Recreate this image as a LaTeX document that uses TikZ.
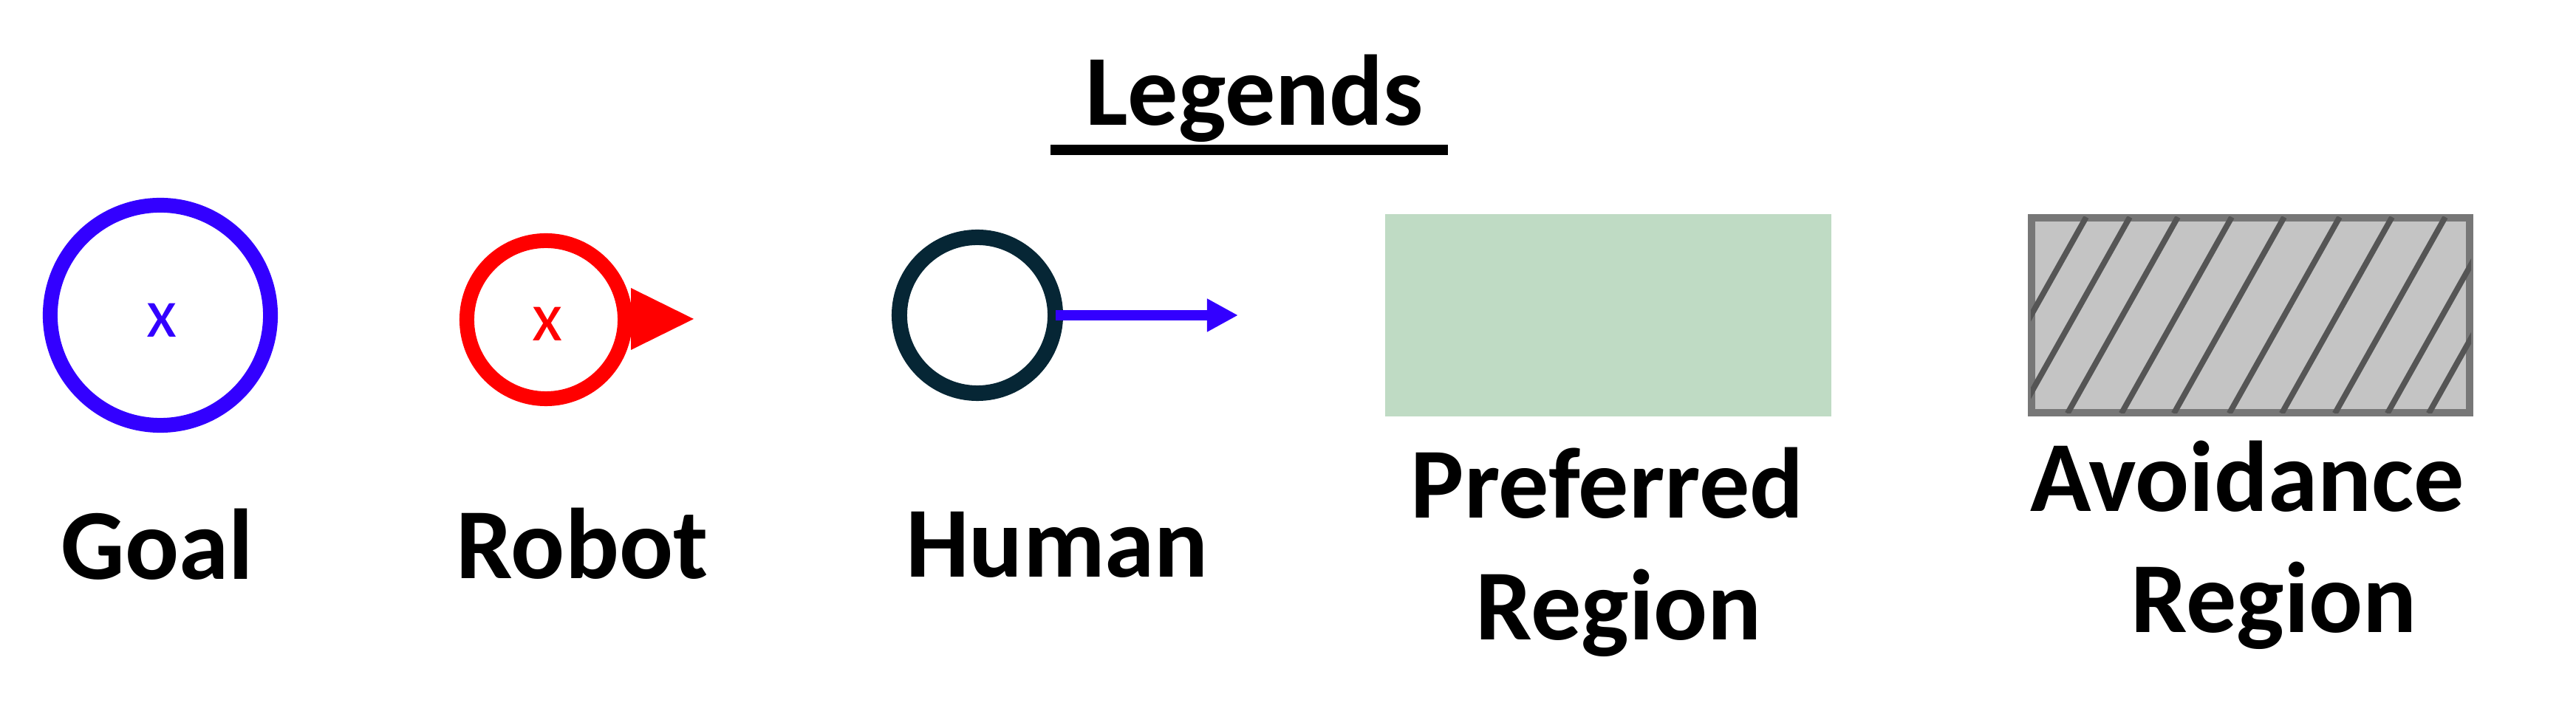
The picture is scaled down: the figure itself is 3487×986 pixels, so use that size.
\documentclass[tikz,border=0pt]{standalone}
\usepackage{fontspec}
\setmainfont{Carlito}
\usetikzlibrary{arrows.meta}
\definecolor{goalblue}{HTML}{3300FF}
\definecolor{humandark}{HTML}{062635}
\definecolor{prefgreen}{HTML}{BFDBC4}
\definecolor{avoidfill}{HTML}{C4C4C4}
\definecolor{avoidedge}{HTML}{777777}
\definecolor{hatchgray}{HTML}{555555}
\begin{document}
\begin{tikzpicture}[x=0.01cm,y=-0.01cm,
  lbl/.style={font=\fontsize{38.7}{46.9}\selectfont\bfseries, anchor=base, inner sep=0, outer sep=0},
  crossmark/.style={font=\fontsize{27}{30}\selectfont, inner sep=0, outer sep=0},
  ring/.style={circle, draw, inner sep=0, outer sep=0},
  hatchline/.style={hatchgray, line width=2.2pt},
]
\useasboundingbox (0,0) rectangle (3487,986);

% title
\node[lbl] (title) at (1698,170) {Legends};
\coordinate (ulA) at (1422,203);
\coordinate (ulB) at (1960,203);
\draw[line width=3.98pt] (ulA) -- (ulB);

% goal
\node[ring, draw=goalblue, line width=5.69pt, minimum size=2.98cm] (goal) at (217,427) {};
\node[crossmark, text=goalblue] (goalx) at (219,434) {x};
\node[lbl] (goallbl) at (213,785) {Goal};

% robot
\node[ring, draw=red, line width=5.69pt, minimum size=2.14cm] (robot) at (739,433) {};
\node[crossmark, text=red] (robotx) at (741,439) {x};
\fill[red] (854,390) -- (854,474) -- (939,432) -- cycle;
\node[lbl] (robotlbl) at (788,784) {Robot};

% human
\coordinate (htip) at (1676,427);
\node[ring, draw=humandark, line width=5.97pt, minimum size=2.11cm] (human) at (1323,427) {};
\draw[goalblue, line width=3.98pt, -{Triangle[length=4.2mm,width=4.2mm]}] (human.east) -- (htip);
\node[lbl] (humanlbl) at (1431,782) {Human};

% preferred region
\fill[prefgreen] (1875,290) rectangle (2479,564);
\node[lbl] (pref1) at (2176,702) {Preferred};
\node[lbl] (pref2) at (2191,867) {Region};

% avoidance region
\filldraw[fill=avoidfill, draw=avoidedge, line width=2.85pt] (2750,295) rectangle (3343,559);
\begin{scope}
  \clip (2749,294) rectangle (3345,560);
  \foreach \t in {2824,2883,2948,3021,3092,3167,3238,3310,3381,3437}
    \draw[hatchline] (\t,294) -- ({\t-149.4},560);
\end{scope}
\node[lbl] (avoid1) at (3042,693) {Avoidance};
\node[lbl] (avoid2) at (3078,857) {Region};
\end{tikzpicture}
\end{document}
